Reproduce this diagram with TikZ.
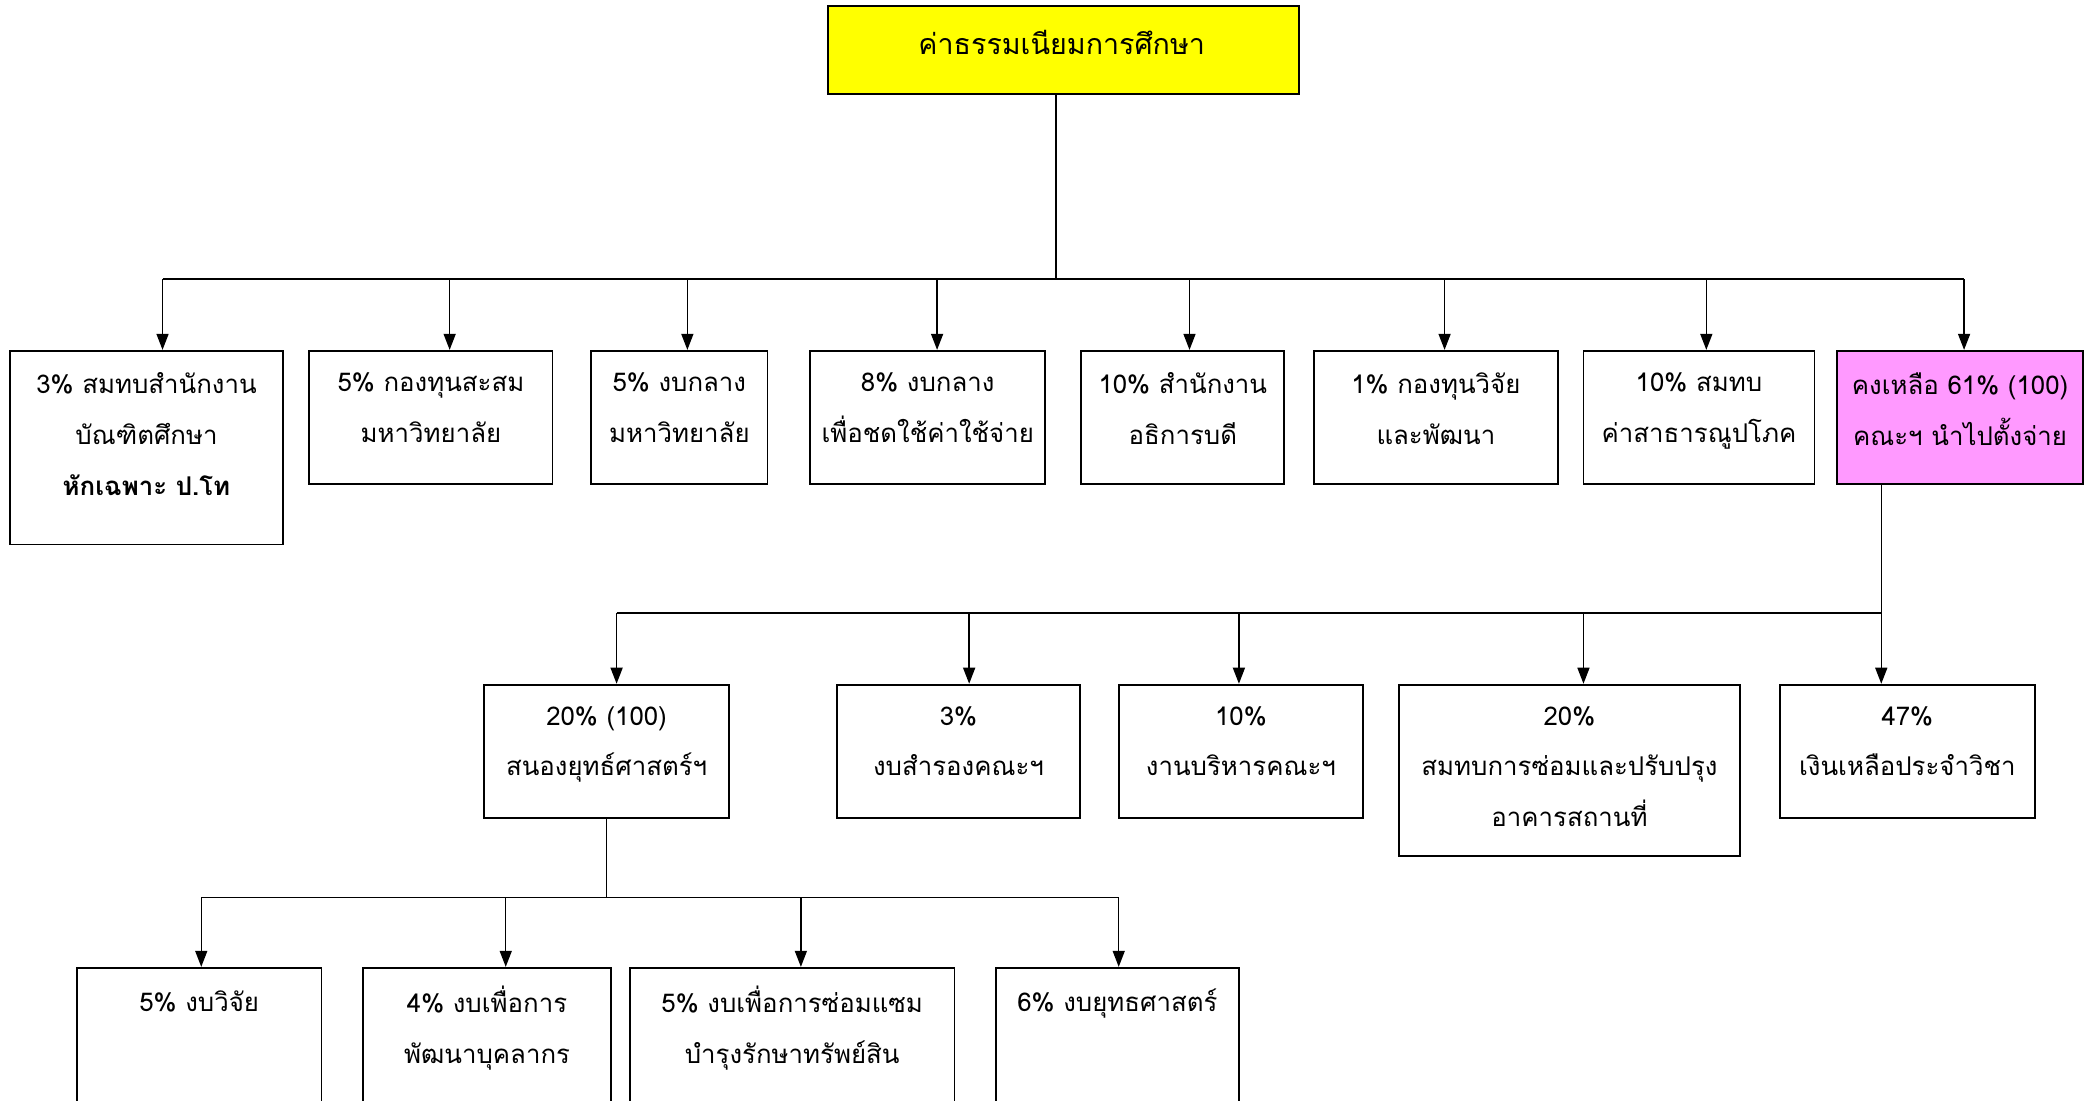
\documentclass[tikz,border=0pt]{standalone}
\usepackage{fontspec}
\newfontfamily\thaifont[Script=Thai]{Loma}
\usetikzlibrary{arrows.meta,positioning}
\definecolor{feeyellow}{HTML}{FFFF00}
\definecolor{facultypink}{HTML}{FF99FF}
\newcommand\linetop{\rule{0pt}{11pt}}
\tikzset{
  box/.style={draw, line width=0.8pt, inner sep=0pt, anchor=north west},
  txt/.style={align=center, inner sep=0pt, execute at begin node=\linetop, font=\thaifont\fontsize{11}{21.6}\selectfont},
  arr/.style={-{Triangle[length=0.24cm,width=0.18cm]}, line width=0.6pt},
  link/.style={line width=0.6pt}
}
\begin{document}
\begin{tikzpicture}[x=0.02cm, y=-0.02cm]
    \useasboundingbox (0,0) rectangle (1568,824);
    \clip (0,0) rectangle (1568,824);
    % top box
    \node[box, fill=feeyellow, minimum width=353*0.02cm, minimum height=66*0.02cm] (fee) at (619,4) {};
    \node[inner sep=0pt, font=\thaifont\fontsize{12.2}{16}\selectfont] (feetxt) at (795,32) {ค่าธรรมเนียมการศึกษา};
    \coordinate (bus) at (790,209);
    \draw[link] ([xshift=-5.5*0.02cm]fee.south) -- ([xshift=-5.5*0.02cm]fee.south |- bus);
    % first row
    \foreach \l/\r/\b/\ax/\n/\c/\t in {
        7/211/407/121/gs/white/{3\% สมทบสำนักงาน\\บัณฑิตศึกษา\\{\bfseries หักเฉพาะ ป.โท}},
        231/413/362/336/acc/white/{5\% กองทุนสะสม\\มหาวิทยาลัย},
        442/574/362/514/cen/white/{5\% งบกลาง\\มหาวิทยาลัย},
        606/782/362/701/exp/white/{8\% งบกลาง\\เพื่อชดใช้ค่าใช้จ่าย},
        809/961/362/890/pres/white/{10\% สำนักงาน\\อธิการบดี},
        983/1166/362/1081/res/white/{1\% กองทุนวิจัย\\และพัฒนา},
        1185/1358/362/1277/util/white/{10\% สมทบ\\ค่าสาธารณูปโภค},
        1375/1559/362/1470/fac/facultypink/{คงเหลือ 61\% (100)\\คณะฯ นำไปตั้งจ่าย}} {
      \node[box, fill=\c, minimum width={(\r-\l)*0.02cm}, minimum height={(\b-262)*0.02cm}] (\n) at (\l,262) {};
      \node[txt, below=9.5pt of \n.north] (\n-txt) {\t};
      \coordinate (\n-in) at ([xshift={(\ax-(\l+\r)/2)*0.02cm}]\n.north);
      \draw[arr] (\n-in |- bus) -- (\n-in);
    }
    \draw[link] (gs-in |- bus) -- (fac-in |- bus);
    % second row
    \coordinate (bus2) at (1408,459);
    \draw[link] ([xshift=-59*0.02cm]fac.south) -- ([xshift=-59*0.02cm]fac.south |- bus2);
    \foreach \l/\r/\b/\ax/\n/\t in {
        362/545/612/461/strat/{20\% (100)\\สนองยุทธ์ศาสตร์ฯ},
        626/808/612/725/resv/{3\%\\งบสำรองคณะฯ},
        837/1020/612/927/admin/{10\%\\งานบริหารคณะฯ},
        1047/1302/640/1185/repair/{20\%\\สมทบการซ่อมและปรับปรุง\\อาคารสถานที่},
        1332/1523/612/1408/left/{47\%\\เงินเหลือประจำวิชา}} {
      \node[box, minimum width={(\r-\l)*0.02cm}, minimum height={(\b-512)*0.02cm}] (\n) at (\l,512) {};
      \node[txt, below=9.5pt of \n.north] (\n-txt) {\t};
      \coordinate (\n-in) at ([xshift={(\ax-(\l+\r)/2)*0.02cm}]\n.north);
      \draw[arr] (\n-in |- bus2) -- (\n-in);
    }
    \draw[link] (strat-in |- bus2) -- (left-in |- bus2);
    % third row
    \coordinate (bus3) at (454,672);
    \draw[link] (strat.south) -- (strat.south |- bus3);
    \foreach \l/\r/\ax/\n/\t in {
        57/240/150/rsch/{5\% งบวิจัย},
        271/457/378/staff/{4\% งบเพื่อการ\\พัฒนาบุคลากร},
        471/714/599/maint/{5\% งบเพื่อการซ่อมแซม\\บำรุงรักษาทรัพย์สิน},
        745/927/837/plan/{6\% งบยุทธศาสตร์}} {
      \node[box, minimum width={(\r-\l)*0.02cm}, minimum height=140*0.02cm] (\n) at (\l,724) {};
      \node[txt, below=8pt of \n.north] (\n-txt) {\t};
      \coordinate (\n-in) at ([xshift={(\ax-(\l+\r)/2)*0.02cm}]\n.north);
      \draw[arr] (\n-in |- bus3) -- (\n-in);
    }
    \draw[link] (rsch-in |- bus3) -- (plan-in |- bus3);
  \end{tikzpicture}
\end{document}
